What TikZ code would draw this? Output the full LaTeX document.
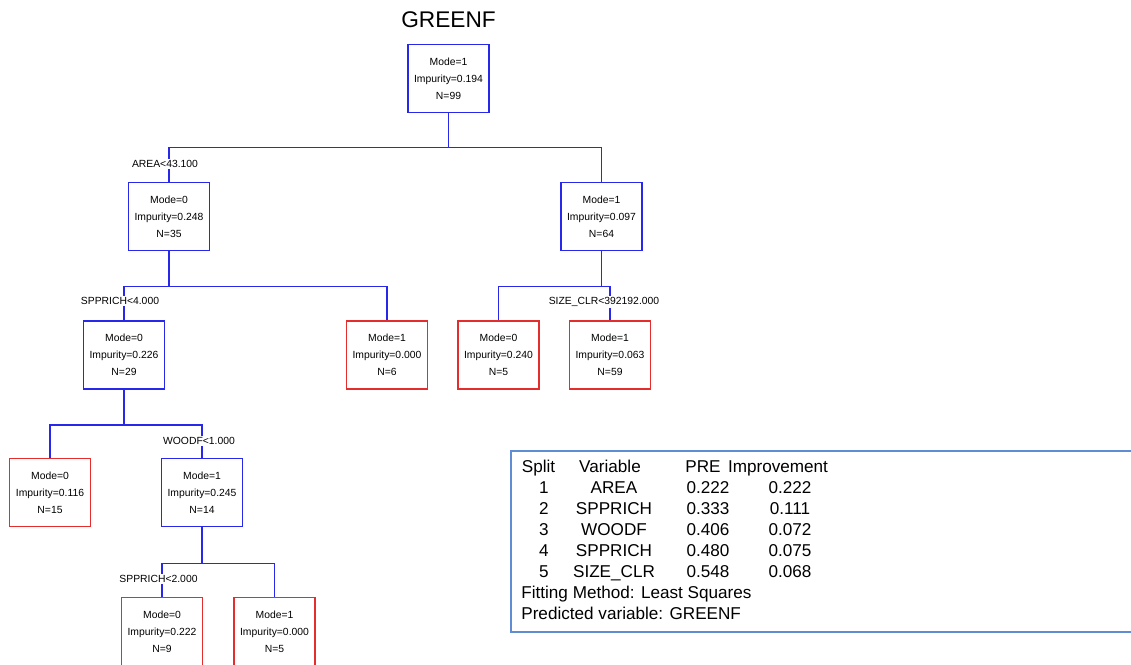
\documentclass[tikz,border=0pt]{standalone}
\usepackage{fontspec}
\setmainfont{Liberation Sans}
\setsansfont{Liberation Sans}
\definecolor{splitblue}{RGB}{40,40,235}
\definecolor{leafred}{RGB}{228,45,45}
\definecolor{framecol}{RGB}{95,140,210}
\tikzset{
  treebox/.style={draw, line width=0.9pt, minimum width=1.62cm, minimum height=1.36cm,
    align=center, inner sep=0pt, font=\sffamily\fontsize{5.9}{9.6}\selectfont},
  splitbox/.style={treebox, draw=splitblue},
  leafbox/.style={treebox, draw=leafred},
  branch/.style={draw=splitblue, line width=0.9pt},
  splitlab/.style={fill=white, inner sep=1pt, font=\sffamily\fontsize{5.9}{7}\selectfont},
  tabtext/.style={inner sep=0pt, text height=7pt, text depth=2.2pt, yshift=-0.9pt,
    font=\sffamily\fontsize{9.75}{11.9}\selectfont}
}
\begin{document}
\begin{tikzpicture}[x=0.02cm, y=-0.02cm, font=\sffamily]
        \useasboundingbox (0,0) rectangle (1131,664);
        % title
        \node[font=\sffamily\fontsize{12.9}{15}\selectfont] (title) at (448.5,20) {GREENF};

        % tree nodes
        \node[splitbox] (n99) at (448.5,78.5) {Mode=1\\Impurity=0.194\\N=99};
        \node[splitbox] (n35) at (169,216.5) {Mode=0\\Impurity=0.248\\N=35};
        \node[splitbox] (n64) at (601.5,216.5) {Mode=1\\Impurity=0.097\\N=64};
        \node[splitbox] (n29) at (124,355) {Mode=0\\Impurity=0.226\\N=29};
        \node[leafbox] (l6) at (387,355) {Mode=1\\Impurity=0.000\\N=6};
        \node[leafbox] (l5a) at (498.5,355) {Mode=0\\Impurity=0.240\\N=5};
        \node[leafbox] (l59) at (610,355) {Mode=1\\Impurity=0.063\\N=59};
        \node[leafbox] (l15) at (50,492.5) {Mode=0\\Impurity=0.116\\N=15};
        \node[splitbox] (n14) at (202,492.5) {Mode=1\\Impurity=0.245\\N=14};
        \node[leafbox] (l9) at (162,631.5) {Mode=0\\Impurity=0.222\\N=9};
        \node[leafbox] (l5b) at (274.5,631.5) {Mode=1\\Impurity=0.000\\N=5};

        % branches
        \draw[branch] (n99.south) -- ++(0,34) coordinate (b1) -| (n35.north);
        \draw[branch] (b1) -| (n64.north);
        \draw[branch] (n35.south) -- ++(0,35) coordinate (b2) -| (n29.north);
        \draw[branch] (b2) -| (l6.north);
        \draw[branch] (n64.south) -- ++(0,35) coordinate (b3) -| (l5a.north);
        \draw[branch] (b3) -| (l59.north);
        \draw[branch] (n29.south) -- ++(0,35) coordinate (b4) -| (l15.north);
        \draw[branch] (b4) -| (n14.north);
        \draw[branch] (n14.south) -- ++(0,36) coordinate (b5) -| (l9.north);
        \draw[branch] (b5) -| (l5b.north);

        % split labels
        \node[splitlab] (s1) at (165,164) {AREA<43.100};
        \node[splitlab] (s2) at (120,301) {SPPRICH<4.000};
        \node[splitlab] (s3) at (604,302) {SIZE\_CLR<392192.000};
        \node[splitlab] (s4) at (199,441) {WOODF<1.000};
        \node[splitlab] (s5) at (158.5,579) {SPPRICH<2.000};

        % summary table
        \draw[framecol, line width=0.9pt] (1131,451) -| (511,632) -- (1131,632);
        \node[tabtext] (hsplit) at (538.5,467) {Split};
        \node[tabtext] (hvar) at (610,467) {Variable};
        \node[tabtext] (hpre) at (703,467) {PRE};
        \node[tabtext] (himp) at (778,467) {Improvement};
        \foreach \i/\v/\p/\m in {1/AREA/0.222/0.222, 2/SPPRICH/0.333/0.111,
            3/WOODF/0.406/0.072, 4/SPPRICH/0.480/0.075, 5/SIZE\_CLR/0.548/0.068} {
          \node[tabtext] (k\i) at (544,467+21*\i) {\i};
          \node[tabtext] (v\i) at (614,467+21*\i) {\v};
          \node[tabtext] (p\i) at (708,467+21*\i) {\p};
          \node[tabtext] (m\i) at (790,467+21*\i) {\m};
        }
        \node[tabtext, anchor=west] (fit) at (521,593) {Fitting Method: Least Squares};
        \node[tabtext, anchor=west] (pred) at (521,614) {Predicted variable: GREENF};
\end{tikzpicture}
\end{document}
